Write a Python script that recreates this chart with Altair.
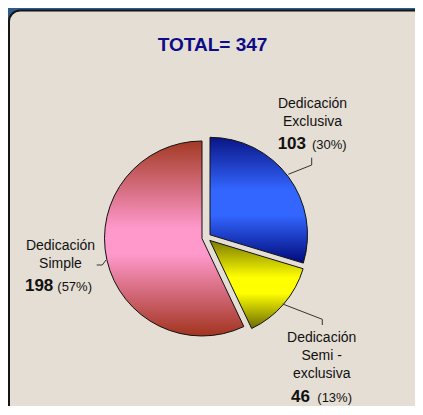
import altair as alt
import pandas as pd

# ---- data ----
categories = ["Dedicación Exclusiva", "Dedicación Semi-exclusiva", "Dedicación Simple"]
label_lines = ["Dedicación\nExclusiva", "Dedicación\nSemi -\nexclusiva", "Dedicación\nSimple"]
values = [103, 46, 198]

df = pd.DataFrame({
    "cat": categories,
    "label": label_lines,
    "value": values,
    "order": list(range(len(values))),
})
dummy = pd.DataFrame({"a": [0]})

FONT = "Liberation Sans"
CX, CY, R, EXPLODE = 198.4, 229.5, 97.5, 4.5


def grad(stops):
    return alt.LinearGradient(
        gradient="linear",
        stops=[alt.GradientStop(offset=o, color=c) for o, c in stops],
        x1=0, x2=0, y1=0, y2=1,
    )


fills = [
    grad([(0, "#0a1585"), (0.42, "#3366ff"), (0.62, "#3366ff"), (1, "#000a7a")]),
    grad([(0, "#7a7a00"), (0.42, "#ffff00"), (0.6, "#ffff00"), (1, "#6a6a00")]),
    grad([(0, "#a33a25"), (0.45, "#ff99cc"), (0.58, "#ff99cc"), (1, "#a2341f")]),
]

base = (
    alt.Chart(df)
    .transform_joinaggregate(total="sum(value)")
    .transform_window(cum="sum(value)", sort=[alt.SortField("order")])
    .transform_calculate(
        t0="(datum.cum - datum.value) / datum.total * 2 * PI",
        t1="datum.cum / datum.total * 2 * PI",
    )
    .transform_calculate(mid="(datum.t0 + datum.t1) / 2")
    .transform_calculate(
        px=f"{CX} + {EXPLODE} * sin(datum.mid)",
        py=f"{CY} - {EXPLODE} * cos(datum.mid)",
        pct="'(' + round(datum.value / datum.total * 100) + '%)'",
    )
)

panel = alt.Chart(dummy).mark_rect(
    fill="#e5ded4", stroke="#151515", strokeWidth=2, cornerRadius=11
).encode(x=alt.value(1), y=alt.value(2.5), x2=alt.value(700), y2=alt.value(700))

arcs = []
for i, f in enumerate(fills):
    arcs.append(
        base.transform_filter(f"datum.order == {i}")
        .mark_arc(outerRadius=R, color=f, stroke="#111111", strokeWidth=1)
        .encode(
            x=alt.X("px:Q", scale=None, axis=None),
            y=alt.Y("py:Q", scale=None, axis=None),
            theta=alt.Theta("t0:Q", scale=None),
            theta2=alt.Theta2("t1:Q"),
        )
    )

# leader lines (annotation segments)
segs = [
    (280.3, 166.3, 303.7, 157.0), (303.7, 157.0, 303.7, 149.7),
    (274.7, 296.0, 314.3, 311.3), (314.3, 311.3, 314.3, 317.0),
    (88.7, 257.0, 94.3, 257.0), (94.3, 257.0, 98.0, 252.0),
]
rules = [
    alt.Chart(dummy).mark_rule(color="#333333", strokeWidth=1).encode(
        x=alt.value(a), y=alt.value(b), x2=alt.value(c), y2=alt.value(d)
    )
    for a, b, c, d in segs
]

# label positions: (name center x, name baseline y, number right x, number baseline y, pct left x)
label_pos = [
    (304.5, 100.3, 298.0, 141.0, 304.0),
    (313.7, 334.3, 302.0, 394.3, 309.3),
    (52.5, 242.0, 45.3, 283.0, 49.3),
]
texts = []
for i, (nx, ny, vx, vy, px) in enumerate(label_pos):
    sub = base.transform_filter(f"datum.order == {i}")
    texts.append(
        sub.mark_text(font=FONT, fontSize=14, lineHeight=18, lineBreak="\n",
                      align="center", baseline="alphabetic", color="#111111")
        .encode(text="label:N", x=alt.value(nx), y=alt.value(ny))
    )
    texts.append(
        sub.mark_text(font=FONT, fontSize=17, fontWeight="bold",
                      align="right", baseline="alphabetic", color="#111111")
        .encode(text="value:Q", x=alt.value(vx), y=alt.value(vy))
    )
    texts.append(
        sub.mark_text(font=FONT, fontSize=13, align="left",
                      baseline="alphabetic", color="#111111")
        .encode(text="pct:N", x=alt.value(px), y=alt.value(vy))
    )

title = (
    alt.Chart(df)
    .transform_aggregate(total="sum(value)")
    .transform_calculate(t="'TOTAL= ' + datum.total")
    .mark_text(font=FONT, fontSize=19, fontWeight="bold", align="center",
               baseline="alphabetic", color="#0c0c88")
    .encode(text="t:N", x=alt.value(204.5), y=alt.value(42.7))
)

chart = (
    alt.layer(panel, *arcs, *rules, *texts, title)
    .properties(width=407, height=398, background="#2d5b8e", padding=0,
                autosize=alt.AutoSizeParams(type="none"))
    .configure_view(stroke=None)
)

chart.save("out.html", embed_options={"renderer": "svg", "actions": False})
